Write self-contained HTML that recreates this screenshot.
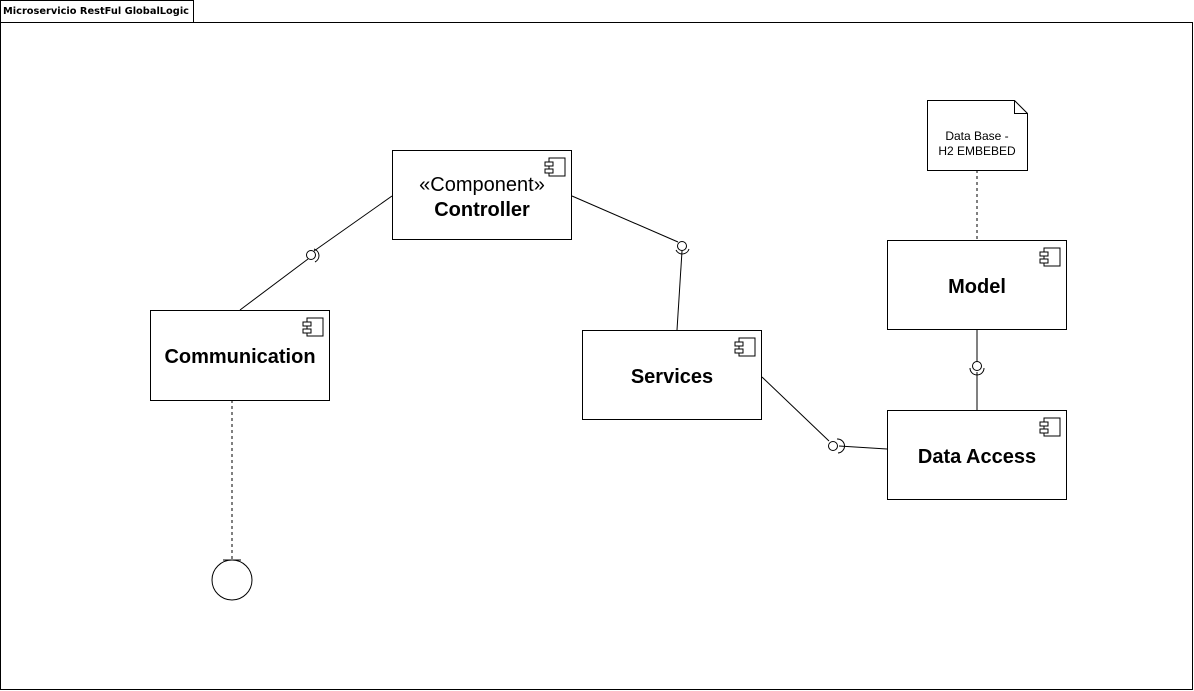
<!DOCTYPE html>
<html><head><meta charset="utf-8"><style>
html,body{margin:0;padding:0;background:#fff;}
svg{display:block;font-family:"Liberation Sans",sans-serif;}
</style></head><body>
<svg width="1194" height="691" viewBox="0 0 1194 691">
<defs>
<g id="ic">
<rect x="4" y="0" width="16" height="18" fill="#fff" stroke="#000" stroke-width="1"/>
<rect x="0" y="4" width="8" height="4" fill="#fff" stroke="#000" stroke-width="1"/>
<rect x="0" y="11" width="8" height="4" fill="#fff" stroke="#000" stroke-width="1"/>
</g>
</defs>
<rect x="0.5" y="22.5" width="1192" height="667" fill="none" stroke="#000"/>
<rect x="0.5" y="0.5" width="193" height="22" fill="#fff" stroke="#000"/>
<text x="3" y="14" font-size="10" font-weight="bold" font-family="DejaVu Sans,sans-serif" textLength="186" lengthAdjust="spacingAndGlyphs">Microservicio RestFul GlobalLogic</text>

<g stroke="#000" fill="none" stroke-width="1">
<line x1="240" y1="310" x2="308" y2="259"/>
<line x1="314" y1="251" x2="392" y2="196"/>
<circle cx="311" cy="255" r="4.5"/>
<path d="M314 249 A7 7 0 0 1 315 262"/>
<line x1="572" y1="196" x2="678" y2="242"/>
<line x1="682" y1="251" x2="677" y2="330"/>
<circle cx="682" cy="246" r="4.5"/>
<path d="M676 250 A7 7 0 0 0 689 249"/>
<line x1="762" y1="377" x2="829" y2="441"/>
<line x1="839" y1="446" x2="887" y2="449"/>
<circle cx="833" cy="446" r="4.5"/>
<path d="M837 439 A7 7 0 0 1 838 453"/>
<line x1="977" y1="330" x2="977" y2="362"/>
<line x1="977" y1="372" x2="977" y2="410"/>
<circle cx="977" cy="366" r="4.5"/>
<path d="M970 368 A7 7 0 0 0 984 368"/>
<line x1="977" y1="170" x2="977" y2="240" stroke-dasharray="3,3"/>
<line x1="232" y1="400" x2="232" y2="560" stroke-dasharray="3,3"/>
<line x1="223" y1="560" x2="241" y2="560"/>
<circle cx="232" cy="580" r="20"/>
</g>

<g fill="#fff" stroke="#000">
<rect x="392.5" y="150.5" width="179" height="89"/>
<rect x="150.5" y="310.5" width="179" height="90"/>
<rect x="582.5" y="330.5" width="179" height="89"/>
<rect x="887.5" y="240.5" width="179" height="89"/>
<rect x="887.5" y="410.5" width="179" height="89"/>
<path d="M927.5 100.5 H1014.5 L1027.5 113.5 V170.5 H927.5 Z"/>
<path d="M1014.5 100.5 V113.5 H1027.5" fill="none"/>
</g>
<use href="#ic" x="545" y="158"/>
<use href="#ic" x="303" y="318"/>
<use href="#ic" x="735" y="338"/>
<use href="#ic" x="1040" y="248"/>
<use href="#ic" x="1040" y="418"/>

<g text-anchor="middle" font-size="20" font-weight="bold">
<text x="482" y="191" font-weight="normal" font-size="20">«Component»</text>
<text x="482" y="216">Controller</text>
<text x="240" y="363">Communication</text>
<text x="672" y="383">Services</text>
<text x="977" y="293">Model</text>
<text x="977" y="463">Data Access</text>
</g>
<g text-anchor="middle" font-size="12">
<text x="977" y="140">Data Base -</text>
<text x="977" y="155">H2 EMBEBED</text>
</g>
</svg>
</body></html>
